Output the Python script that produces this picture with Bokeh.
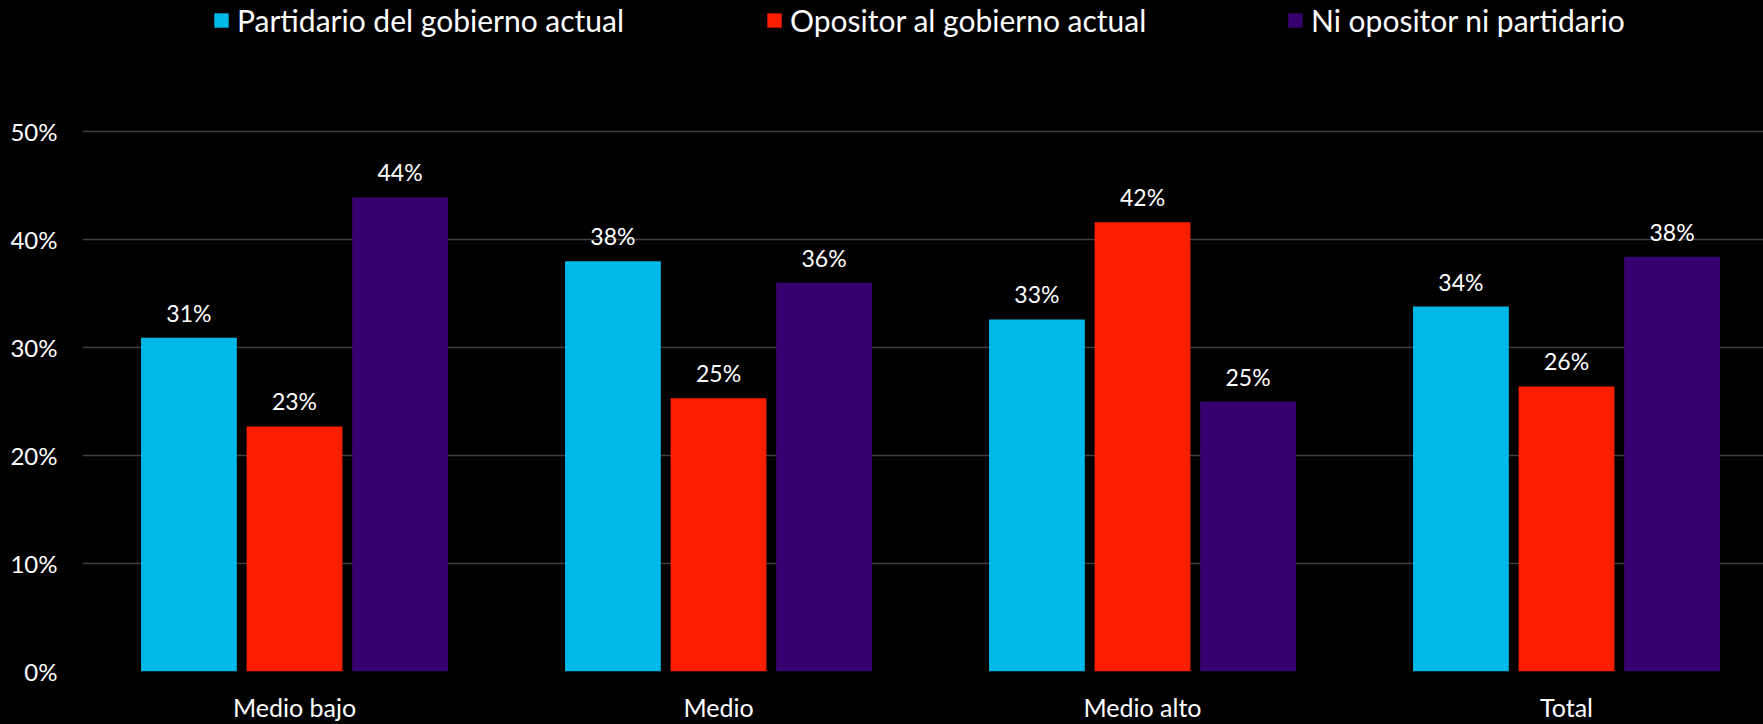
from bokeh.plotting import figure
from bokeh.models import ColumnDataSource, Range1d, FixedTicker, Legend, LegendItem
from bokeh.transform import dodge
from bokeh.core.properties import value
from bokeh.embed import file_html
from bokeh.resources import INLINE

# ---- data ----
categories = ["Medio bajo", "Medio", "Medio alto", "Total"]
series_names = ["Partidario del gobierno actual", "Opositor al gobierno actual", "Ni opositor ni partidario"]
partidario = [30.9, 38.0, 32.6, 33.8]
opositor = [22.7, 25.3, 41.6, 26.4]
ni_uno = [43.9, 36.0, 25.0, 38.4]
partidario_lbl = ["31%", "38%", "33%", "34%"]
opositor_lbl = ["23%", "25%", "42%", "26%"]
ni_uno_lbl = ["44%", "36%", "25%", "38%"]
y_ticks = [0, 10, 20, 30, 40, 50]
y_tick_labels = ["0%", "10%", "20%", "30%", "40%", "50%"]

colors = ["#00B9E7", "#FC1E00", "#36006F"]
FONT = "Lato"

src = ColumnDataSource(dict(
    x=list(range(len(categories))),
    partidario=partidario, opositor=opositor, ni_uno=ni_uno,
    partidario_lbl=partidario_lbl, opositor_lbl=opositor_lbl, ni_uno_lbl=ni_uno_lbl,
))

p = figure(width=1763, height=724, output_backend="svg", toolbar_location=None,
           x_range=Range1d(-0.5, 3.4646), y_range=Range1d(0, 62.14),
           min_border_left=82, min_border_right=0, min_border_top=0, min_border_bottom=50)
p.background_fill_color = "black"
p.border_fill_color = "black"
p.outline_line_color = None

offsets = [-0.249, 0.0, 0.249]
fields = ["partidario", "opositor", "ni_uno"]
renderers = []
for off, f, c in zip(offsets, fields, colors):
    r = p.vbar(x=dodge("x", off), top=f, width=0.226, bottom=0, source=src,
               fill_color=c, line_color=None)
    renderers.append(r)
    p.text(x=dodge("x", off), y=f, text=f + "_lbl", source=src,
           text_align="center", text_baseline="alphabetic", y_offset=-25,
           text_color="white", text_font=value(FONT), text_font_size="23px")

# axes
p.xaxis.ticker = FixedTicker(ticks=list(range(len(categories))))
p.xaxis.major_label_overrides = {i: c for i, c in enumerate(categories)}
p.yaxis.ticker = FixedTicker(ticks=y_ticks)
p.yaxis.major_label_overrides = {t: l for t, l in zip(y_ticks, y_tick_labels)}
for ax in (p.xaxis, p.yaxis):
    ax.axis_line_color = None
    ax.major_tick_line_color = None
    ax.minor_tick_line_color = None
    ax.major_tick_out = 0
    ax.major_tick_in = 0
    ax.major_label_text_color = "white"
    ax.major_label_text_font = FONT
p.xaxis.major_label_text_font_size = "25px"
p.xaxis.major_label_standoff = 20
p.yaxis.major_label_text_font_size = "24px"
p.yaxis.major_label_standoff = 25

p.xgrid.grid_line_color = None
p.ygrid.ticker = FixedTicker(ticks=y_ticks)
p.ygrid.grid_line_color = "#404040"
p.ygrid.grid_line_width = 1.5

# legend: three single-item legends at measured positions
legend_x = [130, 683, 1204]
for r, name, lx in zip(renderers, series_names, legend_x):
    lg = Legend(items=[LegendItem(label=name, renderers=[r])], location=(lx, 633),
                orientation="horizontal", glyph_width=18, glyph_height=18,
                label_standoff=7, padding=0, margin=0, spacing=0,
                border_line_color=None, background_fill_alpha=0,
                label_text_color="white", label_text_font=FONT,
                label_text_font_size="30px")
    p.add_layout(lg)

template = """
{% block preamble %}
<style>html, body { background: #000000; }</style>
{% endblock %}
"""
open("out.html", "w").write(file_html(p, INLINE, template=template))
